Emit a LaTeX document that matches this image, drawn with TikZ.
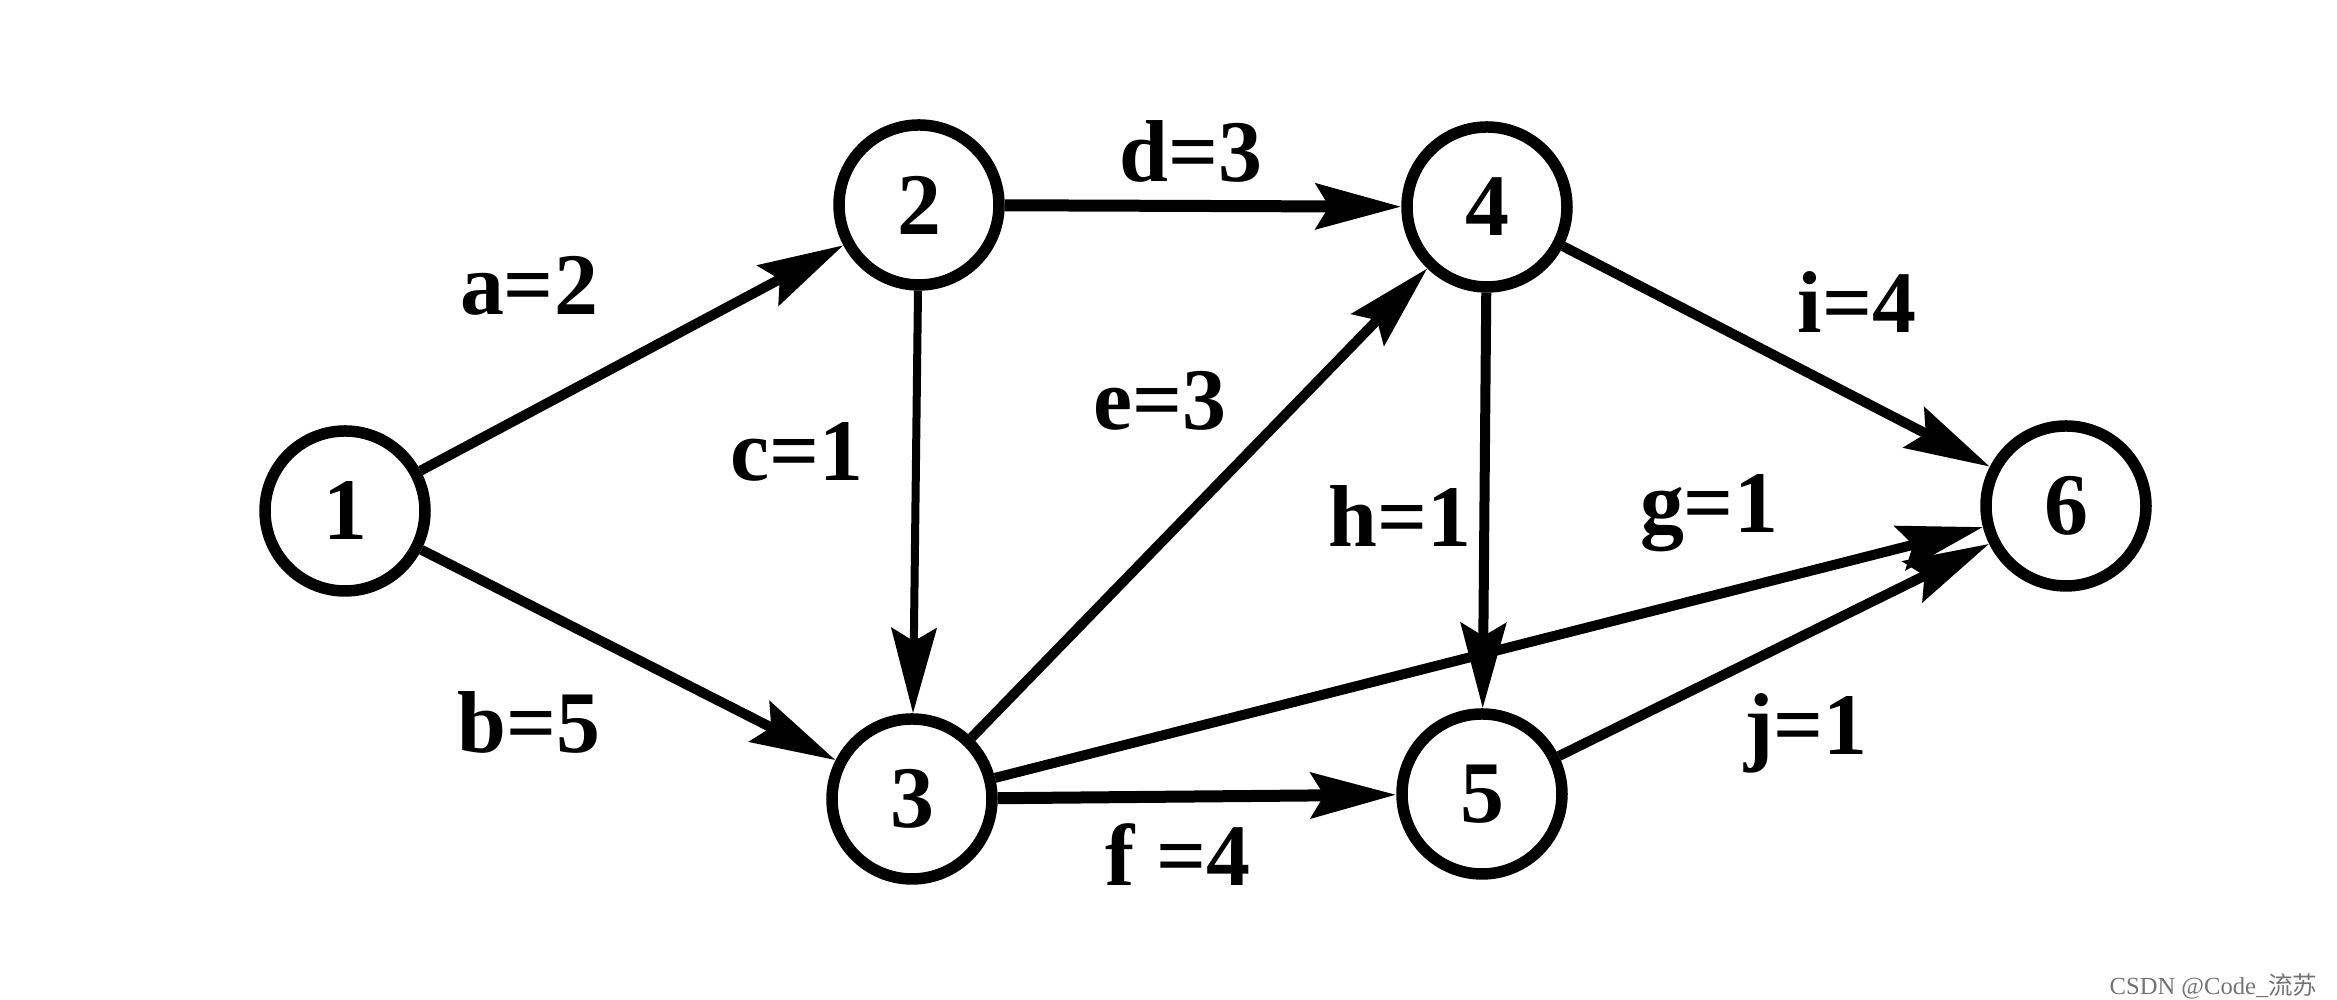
\documentclass[tikz,border=0pt]{standalone}
\usepackage{fontspec}
\setmainfont{Liberation Serif}
\newfontfamily\cjk{Noto Sans CJK SC}
\usetikzlibrary{arrows.meta,positioning}

\tikzset{
    vertex/.style={draw=black, circle, line width=1.15mm, minimum size=1.6cm, inner sep=0pt, font=\fontsize{25}{30}\selectfont\bfseries},
    actarc/.style={line width=1mm, -{Stealth[length=0.85cm, width=0.45cm, inset=0.13cm]}},
    weight/.style={font=\fontsize{25}{30}\selectfont\bfseries}
}

\begin{document}
\begin{tikzpicture}
    \useasboundingbox (0,0) rectangle (23.37,10);
    % vertices
    \node[vertex] (v1) at (3.45,4.89) {1};
    \node[vertex] (v2) at (9.19,7.95) {2};
    \node[vertex] (v3) at (9.12,2.01) {3};
    \node[vertex] (v4) at (14.87,7.93) {4};
    \node[vertex] (v5) at (14.82,2.06) {5};
    \node[vertex] (v6) at (20.66,4.94) {6};
    % activities
    \draw[actarc] (v1) -- (v2);
    \draw[actarc] (v1) -- (v3);
    \draw[actarc, line width=0.8mm] (v2) -- (v3);
    \draw[actarc, line width=1.2mm] (v2) -- (v4);
    \draw[actarc] (v3) -- (v4);
    \draw[actarc, line width=1.2mm] (v3) -- (v5);
    \draw[actarc] (v3) -- (v6);
    \draw[actarc] (v4) -- (v5);
    \draw[actarc] (v4) -- (v6);
    \draw[actarc] (v5) -- (v6);
    % weights
    \node[weight] (wa) at (5.29,7.14) {a=2};
    \node[weight] (wb) at (5.29,2.78) {b=5};
    \node[weight] (wc) at (7.97,5.48) {c=1};
    \node[weight] (wd) at (11.91,8.49) {d=3};
    \node[weight] (we) at (11.60,5.99) {e=3};
    \node[weight] (wf) at (11.78,1.45) {f =4};
    \node[weight] (wg) at (17.09,4.87) {g=1};
    \node[weight] (wh) at (14.00,4.84) {h=1};
    \node[weight] (wi) at (18.57,6.98) {i=4};
    \node[weight] (wj) at (18.06,2.67) {j=1};
    \node[anchor=east, text=black!55, font=\fontsize{7}{8}\selectfont] (mark) at (23.3,0.13) {CSDN @Code\_{\cjk 流苏}};
\end{tikzpicture}
\end{document}
